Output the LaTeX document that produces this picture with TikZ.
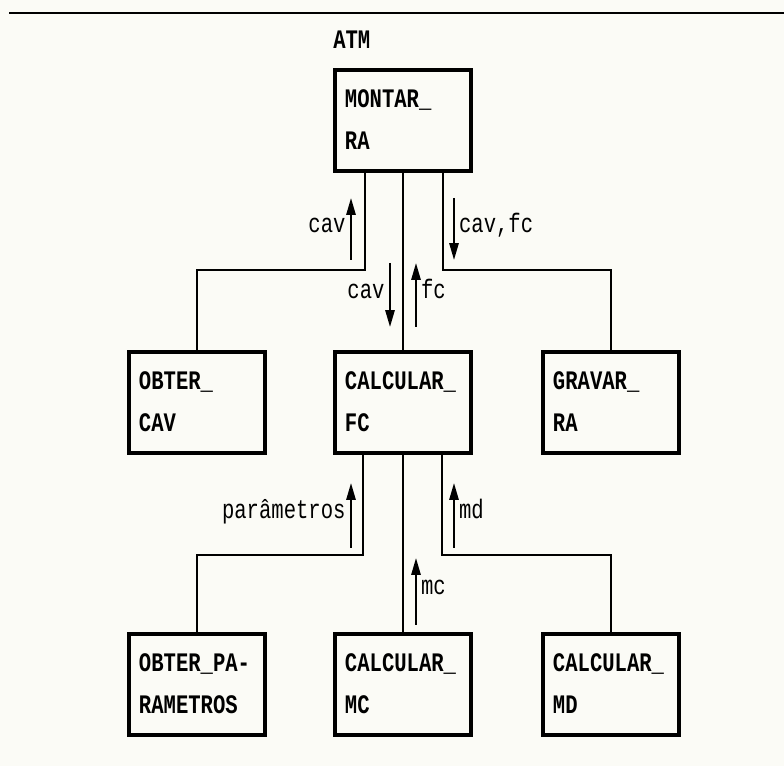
\documentclass[tikz,border=0pt]{standalone}
\usepackage{fontspec}
\newfontfamily\dotfont[FakeStretch=0.77]{Liberation Mono}
\usepackage{tikz}
\usetikzlibrary{arrows.meta, positioning, calc}
\definecolor{paper}{RGB}{251,251,246}
\newcommand{\modlines}[2]{\parbox[t][1.55cm][t]{2.9cm}{\raggedright #1\\#2}}

\begin{document}
\begin{tikzpicture}[x=0.025cm, y=-0.025cm, >={Triangle[length=0.42cm, width=0.23cm]},
  modbox/.style={draw, line width=2.8pt, inner xsep=0.25cm, inner ysep=0.485cm,
        minimum width=3.4cm, minimum height=2.525cm,
        font=\dotfont\bfseries\fontsize{19}{29.8}\selectfont},
  flow/.style={->, line width=1.4pt},
  flowlbl/.style={inner sep=0pt, font=\dotfont\fontsize{19}{22}\selectfont},
  tree/.style={line width=1.3pt}]
  \useasboundingbox (0,0) rectangle (784,766);
  \fill[paper] (0,0) rectangle (784,766);
  \draw[line width=2pt] (9,13) -- (784,13);

  % modules
  \node[modbox] (montar) at (403,120.5) {\modlines{MONTAR\_}{RA}};
  \node[modbox, below=4.425cm of montar] (calcfc) {\modlines{CALCULAR\_}{FC}};
  \node[modbox, left=1.65cm of calcfc] (obtcav) {\modlines{OBTER\_}{CAV}};
  \node[modbox, right=1.7cm of calcfc] (gravra) {\modlines{GRAVAR\_}{RA}};
  \node[modbox, below=4.425cm of calcfc] (calcmc) {\modlines{CALCULAR\_}{MC}};
  \node[modbox, left=1.65cm of calcmc] (obtpar) {\modlines{OBTER\_PA-}{RAMETROS}};
  \node[modbox, right=1.7cm of calcmc] (calcmd) {\modlines{CALCULAR\_}{MD}};
  \node[flowlbl, font=\dotfont\bfseries\fontsize{19}{22}\selectfont,
        anchor=base west] (atm) at ([yshift=0.5cm]montar.north west) {ATM};

  % calls
  \draw[tree] ([xshift=-0.95cm]montar.south) -- ++(0,97) -| (obtcav.north);
  \draw[tree] (montar.south) -- (calcfc.north);
  \draw[tree] ([xshift=1cm]montar.south) -- ++(0,97) -| (gravra.north);
  \draw[tree] ([xshift=-1cm]calcfc.south) -- ++(0,100) -| (obtpar.north);
  \draw[tree] (calcfc.south) -- (calcmc.north);
  \draw[tree] ([xshift=0.975cm]calcfc.south) -- ++(0,100) -| (calcmd.north);

  % data flows
  \coordinate (f1s) at (351,260); \coordinate (f1e) at (351,198);
  \coordinate (f2s) at (454,198); \coordinate (f2e) at (454,260);
  \coordinate (f3s) at (390,263); \coordinate (f3e) at (390,327);
  \coordinate (f4s) at (416,327); \coordinate (f4e) at (416,263);
  \coordinate (f5s) at (351,548); \coordinate (f5e) at (351,483);
  \coordinate (f6s) at (454,548); \coordinate (f6e) at (454,483);
  \coordinate (f7s) at (416,625); \coordinate (f7e) at (416,558);
  \draw[flow] (f1s) -- (f1e);
  \draw[flow] (f2s) -- (f2e);
  \draw[flow] (f3s) -- (f3e);
  \draw[flow] (f4s) -- (f4e);
  \draw[flow] (f5s) -- (f5e);
  \draw[flow] (f6s) -- (f6e);
  \draw[flow] (f7s) -- (f7e);
  \node[flowlbl, anchor=mid east] (l1) at ([xshift=-0.13cm]$(f1s)!0.5!(f1e)$) {cav};
  \node[flowlbl, anchor=mid west] (l2) at ([xshift=0.12cm]$(f2s)!0.5!(f2e)$) {cav,fc};
  \node[flowlbl, anchor=mid east] (l3) at ([xshift=-0.13cm]$(f3s)!0.5!(f3e)$) {cav};
  \node[flowlbl, anchor=mid west] (l4) at ([xshift=0.12cm]$(f4s)!0.5!(f4e)$) {fc};
  \node[flowlbl, anchor=mid east] (l5) at ([xshift=-0.13cm]$(f5s)!0.5!(f5e)$) {parâmetros};
  \node[flowlbl, anchor=mid west] (l6) at ([xshift=0.12cm]$(f6s)!0.5!(f6e)$) {md};
  \node[flowlbl, anchor=mid west] (l7) at ([xshift=0.12cm]$(f7s)!0.5!(f7e)$) {mc};
\end{tikzpicture}
\end{document}
